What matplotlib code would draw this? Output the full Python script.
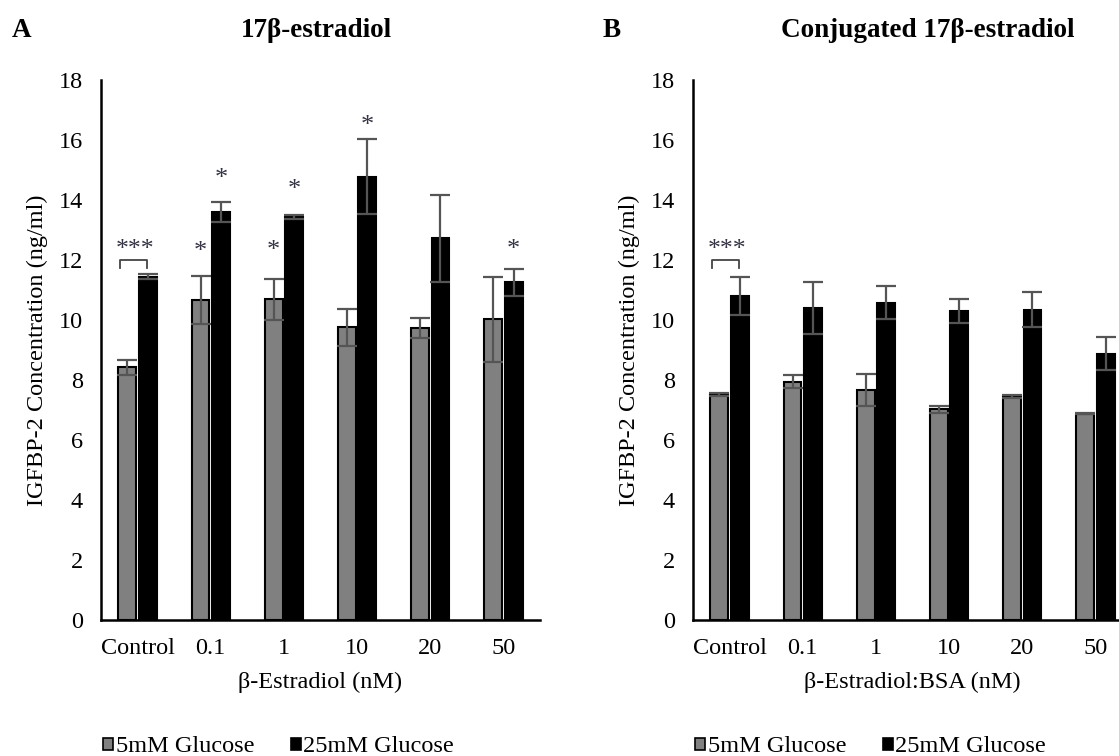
import numpy as np
import matplotlib
matplotlib.use("Agg")
import matplotlib.pyplot as plt

plt.rcParams['font.family'] = ['Liberation Serif', 'DejaVu Serif']

categories = ["Control", "0.1", "1", "10", "20", "50"]

# panel A - 17b-estradiol
a_low = [8.43, 10.68, 10.69, 9.76, 9.73, 10.03]
a_low_err = [0.25, 0.80, 0.69, 0.62, 0.33, 1.42]
a_high = [11.45, 13.60, 13.44, 14.77, 12.72, 11.26]
a_high_err = [0.08, 0.32, 0.06, 1.25, 1.44, 0.45]
# asterisks: (group, series 0=5mM 1=25mM, y)
a_stars = [(1, 0, 12.3), (1, 1, 14.75), (2, 0, 12.35), (2, 1, 14.4), (3, 1, 16.5), (5, 1, 12.4)]

# panel B - conjugated
b_low = [7.52, 7.94, 7.67, 7.02, 7.46, 6.88]
b_low_err = [0.06, 0.22, 0.53, 0.11, 0.05, 0.02]
b_high = [10.80, 10.39, 10.58, 10.30, 10.35, 8.88]
b_high_err = [0.62, 0.87, 0.54, 0.41, 0.58, 0.55]

W, H = 1119, 756
fig = plt.figure(figsize=(W / 100, H / 100), dpi=100)

FS = 17.5
bw = 0.245
off = 0.14


def panel(ax, low, low_err, high, high_err, xlabel, stars):
    x = np.arange(len(categories))
    ekw = dict(ecolor='#555555', elinewidth=1.6, capsize=7.5, capthick=1.6)
    ax.bar(x - off, low, bw, color='#808080', edgecolor='black', linewidth=1.5,
           yerr=low_err, error_kw=ekw, label='5mM Glucose', zorder=2)
    ax.bar(x + off, high, bw, color='black', edgecolor='black', linewidth=1.5,
           yerr=high_err, error_kw=ekw, label='25mM Glucose', zorder=2)
    ax.set_xlim(-0.5, len(categories) - 0.5)
    ax.set_ylim(0, 18)
    ax.set_yticks(np.arange(0, 19, 2))
    ax.set_xticks(x)
    ax.set_xticklabels(categories)
    ax.tick_params(length=0, labelsize=FS)
    ax.tick_params(axis='y', pad=13)
    ax.tick_params(axis='x', pad=13)
    for s in ['top', 'right']:
        ax.spines[s].set_visible(False)
    for s in ['left', 'bottom']:
        ax.spines[s].set_linewidth(1.8)
    ax.set_xlabel(xlabel, fontsize=FS, labelpad=9)
    ax.set_ylabel('IGFBP-2 Concentration (ng/ml)', fontsize=FS)
    ax.yaxis.set_label_coords(-0.12, 0.5)
    # significance bracket on control
    ax.plot([-0.24, -0.24, 0.13, 0.13], [11.75, 12.0, 12.0, 11.75], color='#444444', lw=1.3)
    ax.text(-0.04, 12.35, '***', ha='center', va='center', fontsize=18.5, color='#333344')
    for g, s, yy in stars:
        xx = g - off if s == 0 else g + off
        ax.text(xx, yy - 0.05, '*', ha='center', va='center', fontsize=19, color='#333344')
    leg = ax.legend(loc='center left', bbox_to_anchor=(0.005, (0 - 127) / 540), frameon=False,
                    fontsize=FS, ncol=2, handlelength=0.4, handleheight=0.4,
                    handletextpad=0.12, columnspacing=1.5, borderpad=0, borderaxespad=0)
    for p in leg.get_patches():
        p.set_linewidth(1.2)


axA = fig.add_axes([101 / W, 1 - 620 / H, 439 / W, 540 / H])
axB = fig.add_axes([693 / W, 1 - 620 / H, 439 / W, 540 / H])
panel(axA, a_low, a_low_err, a_high, a_high_err, 'β-Estradiol (nM)', a_stars)
panel(axB, b_low, b_low_err, b_high, b_high_err, 'β-Estradiol:BSA (nM)', [])

fig.text(12 / W, 1 - 37 / H, 'A', fontsize=19.5, fontweight='bold', va='baseline')
fig.text(316 / W, 1 - 37 / H, '17β-estradiol', fontsize=19.5, fontweight='bold', va='baseline', ha='center')
fig.text(603 / W, 1 - 37 / H, 'B', fontsize=19.5, fontweight='bold', va='baseline')
fig.text(928 / W, 1 - 37 / H, 'Conjugated 17β-estradiol', fontsize=19.5, fontweight='bold', va='baseline', ha='center')

fig.savefig('out.png', dpi=100)
